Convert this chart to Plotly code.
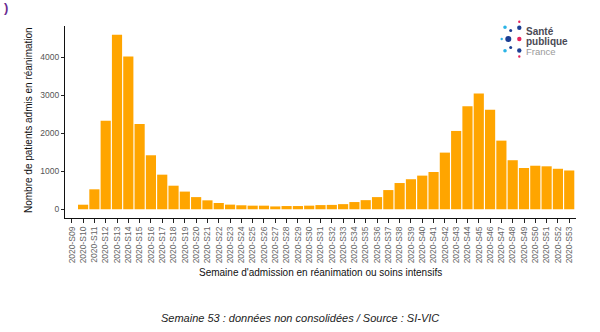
import plotly.graph_objects as go

# ---- data ----
weeks = [f"2020-S{n:02d}" for n in range(9, 54)]
admissions = [0, 120, 525, 2330, 4590, 4020, 2240, 1420, 910, 620,
              465, 320, 235, 165, 122, 105, 95, 95, 75, 85,
              85, 95, 110, 115, 135, 190, 240, 320, 505, 690,
              790, 885, 980, 1490, 2060, 2710, 3045, 2615, 1805, 1290,
              1085, 1145, 1130, 1065, 1020]
y_ticks = [0, 1000, 2000, 3000, 4000]

# ---- layout geometry (pixels) ----
W, H = 600, 332
L, R, T, B = 65, 24, 26, 114
PW, PH = W - L - R, H - T - B

def px(x):
    return (x - L) / PW

def py(y):
    return (H - B - y) / PH

FONT = "Liberation Sans, Arial, sans-serif"

fig = go.Figure()
fig.add_trace(go.Bar(
    x=weeks, y=admissions, width=0.9,
    marker=dict(color="#FFA500", line=dict(width=0)),
    hoverinfo="x+y",
))

ymax = max(admissions)
pad = ymax * 0.05

fig.update_layout(
    width=W, height=H,
    margin=dict(l=L, r=R, t=T, b=B, pad=0),
    plot_bgcolor="white", paper_bgcolor="white",
    showlegend=False,
    font=dict(family=FONT, color="#222"),
    xaxis=dict(
        type="category", range=[-0.6, len(weeks) - 0.4],
        tickangle=-90, ticks="outside", ticklen=4, tickwidth=1, tickcolor="#222",
        showline=True, linecolor="#111", linewidth=1.2,
        showgrid=False, zeroline=False,
        tickfont=dict(family=FONT, size=8.5, color="#666"),
    ),
    yaxis=dict(
        range=[-pad, ymax + pad],
        tickvals=y_ticks, ticktext=[str(v) for v in y_ticks],
        ticks="outside", ticklen=3, tickwidth=1, tickcolor="#222",
        showline=True, linecolor="#111", linewidth=1.2,
        showgrid=False, zeroline=False,
        tickfont=dict(family=FONT, size=8.5, color="#555"),
    ),
)

ann = []
# axis titles
ann.append(dict(text="Semaine d'admission en réanimation ou soins intensifs",
                x=px(320.5), y=py(272), xref="paper", yref="paper",
                showarrow=False, xanchor="center", yanchor="middle",
                font=dict(family=FONT, size=10, color="#111")))
ann.append(dict(text="Nombre de patients admis en réanimation",
                x=px(28), y=py(120), xref="paper", yref="paper", textangle=-90,
                showarrow=False, xanchor="center", yanchor="middle",
                font=dict(family=FONT, size=10, color="#111")))
# caption
ann.append(dict(text="<i>Semaine 53 : données non consolidées / Source : SI-VIC</i>",
                x=px(300), y=py(318), xref="paper", yref="paper",
                showarrow=False, xanchor="center", yanchor="middle",
                font=dict(family=FONT, size=11, color="#222")))
# cut-off panel letter
ann.append(dict(text="<b>)</b>", x=px(2), y=py(7), xref="paper", yref="paper",
                showarrow=False, xanchor="left", yanchor="middle",
                font=dict(family=FONT, size=13, color="#6A2C91")))
# logo text
ann.append(dict(text="<b>Santé</b>", x=px(524), y=py(31.5), xref="paper", yref="paper",
                showarrow=False, xanchor="left", yanchor="middle",
                font=dict(family=FONT, size=10, color="#4a4a55")))
ann.append(dict(text="<b>publique</b>", x=px(524), y=py(41.5), xref="paper", yref="paper",
                showarrow=False, xanchor="left", yanchor="middle",
                font=dict(family=FONT, size=10, color="#4a4a55")))
ann.append(dict(text="France", x=px(524), y=py(51.5), xref="paper", yref="paper",
                showarrow=False, xanchor="left", yanchor="middle",
                font=dict(family=FONT, size=9.5, color="#9a9a9a")))
fig.update_layout(annotations=ann)

# logo dots (decoration)
BLUE, CYAN, PINK = "#1c3f94", "#2bb4e6", "#e6245c"
dots = [
    (519.3, 21.7, 1.2, PINK),
    (505.0, 27.3, 1.8, CYAN),
    (510.7, 30.5, 1.5, BLUE),
    (519.3, 27.8, 2.2, BLUE),
    (501.7, 39.0, 1.2, CYAN),
    (508.3, 39.0, 3.0, BLUE),
    (519.3, 39.0, 2.2, PINK),
    (510.7, 47.5, 1.5, BLUE),
    (505.0, 50.7, 1.8, CYAN),
    (519.3, 50.5, 2.2, BLUE),
    (519.3, 56.5, 1.2, PINK),
]
shapes = []
for (cx, cy, r, c) in dots:
    shapes.append(dict(type="circle", xref="paper", yref="paper",
                       xsizemode="pixel", ysizemode="pixel",
                       xanchor=px(cx), yanchor=py(cy),
                       x0=-r, x1=r, y0=-r, y1=r,
                       fillcolor=c, line=dict(width=0)))
fig.update_layout(shapes=shapes)

fig.write_html("out.html")
